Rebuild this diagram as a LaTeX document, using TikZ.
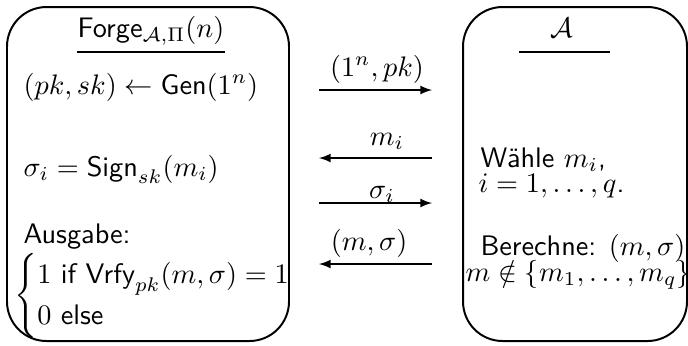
\documentclass[tikz,border=0pt]{standalone}
\usepackage{amsmath}
\renewcommand{\familydefault}{\sfdefault}
\begin{document}
\begin{tikzpicture}[x=0.354pt,y=-0.354pt,line join=round,>=latex]
\tikzset{box/.style={rounded corners=14pt,line width=0.7pt},
  txt/.style={anchor=base west,inner sep=0pt},
  lbl/.style={anchor=base,inner sep=0pt},
  msg/.style={->,line width=0.45pt}}
\useasboundingbox (0,0) rectangle (688,345);
% Spieler
\draw[box] (7,7) rectangle (289,341);
\draw[box] (463,7) rectangle (687,341);
\node[lbl] (forge) at (151,37) {Forge$_{\mathcal{A},\Pi}(n)$};
\draw (77,52) -- (225,52);
\node[lbl] (adv) at (562,37) {$\mathcal{A}$};
\draw (519,52) -- (610,52);
% Challenger
\node[txt] (gen) at (23,94) {$(pk,sk)\leftarrow\textsf{Gen}(1^n)$};
\node[txt] (sign) at (23,176) {$\sigma_i=\textsf{Sign}_{sk}(m_i)$};
\node[txt] (out) at (23,243) {Ausgabe:};
\node[anchor=west,inner sep=0pt] (cases) at (14,296)
  {$\begin{cases}1\text{ if }\textsf{Vrfy}_{pk}(m,\sigma)=1\\ 0\text{ else}\end{cases}$};
% Angreifer
\node[txt] (pick) at (480,167) {W\"ahle $m_i$,};
\node[txt] (range) at (478,192) {$i=1,\ldots,q$.};
\node[txt] (comp) at (480,255) {Berechne: $(m,\sigma)$};
\node[txt] (fresh) at (465,281) {$m\notin\{m_1,\ldots,m_q\}$};
% Nachrichten
\coordinate (a1l) at (319,90); \coordinate (a1r) at (432,90);
\coordinate (a2l) at (319,158); \coordinate (a2r) at (432,158);
\coordinate (a3l) at (319,203); \coordinate (a3r) at (432,203);
\coordinate (a4l) at (319,264); \coordinate (a4r) at (432,264);
\draw[msg] (a1l) -- (a1r);
\draw[msg] (a2r) -- (a2l);
\draw[msg] (a3l) -- (a3r);
\draw[msg] (a4r) -- (a4l);
\node[lbl] (m1) at (377,76) {$(1^n,pk)$};
\node[lbl] (m2) at (387,145) {$m_i$};
\node[lbl] (m3) at (382,198) {$\sigma_i$};
\node[lbl] (m4) at (369,250) {$(m,\sigma)$};
\end{tikzpicture}
\end{document}
